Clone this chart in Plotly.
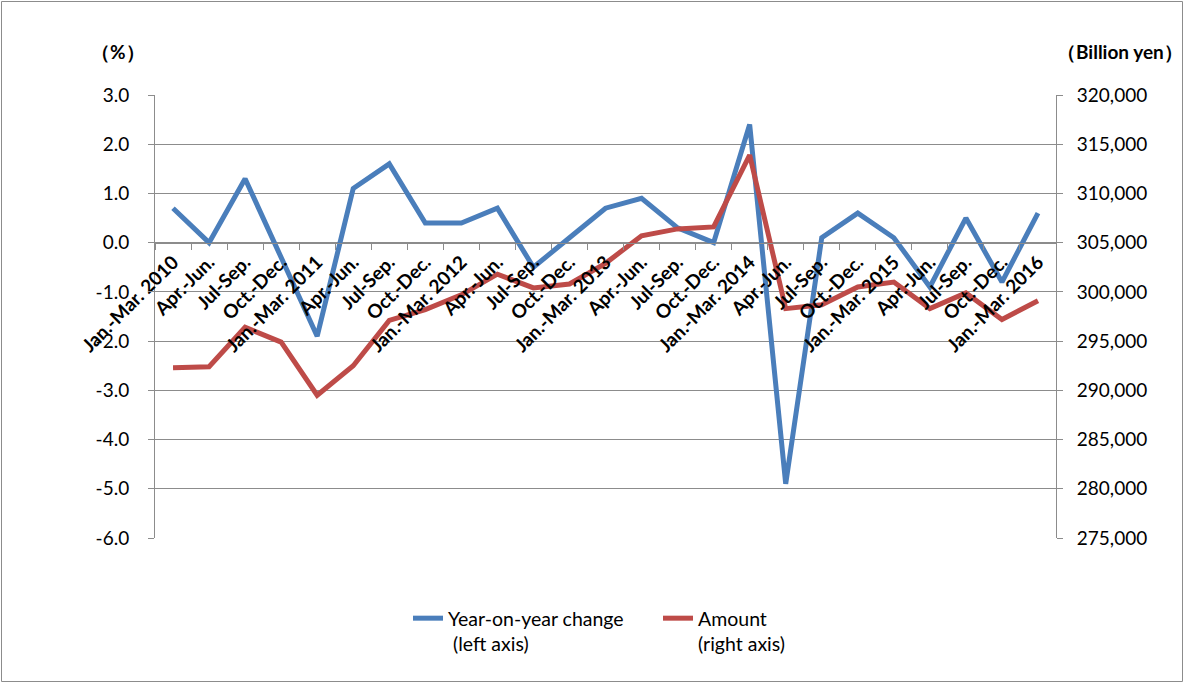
import plotly.graph_objects as go

quarters = ["Jan.-Mar. 2010", "Apr.-Jun.", "Jul-Sep.", "Oct.-Dec.",
            "Jan.-Mar. 2011", "Apr.-Jun.", "Jul-Sep.", "Oct.-Dec.",
            "Jan.-Mar. 2012", "Apr.-Jun.", "Jul-Sep.", "Oct.-Dec.",
            "Jan.-Mar. 2013", "Apr.-Jun.", "Jul-Sep.", "Oct.-Dec.",
            "Jan.-Mar. 2014", "Apr.-Jun.", "Jul-Sep.", "Oct.-Dec.",
            "Jan.-Mar. 2015", "Apr.-Jun.", "Jul-Sep.", "Oct.-Dec.",
            "Jan.-Mar. 2016"]

yoy_change = [0.7, 0.0, 1.3, -0.3, -1.9, 1.1, 1.6, 0.4, 0.4, 0.7, -0.5, 0.1,
              0.7, 0.9, 0.3, 0.0, 2.4, -4.9, 0.1, 0.6, 0.1, -0.9, 0.5, -0.8, 0.6]

amount = [292300, 292400, 296400, 294900, 289500, 292500, 297100, 298200,
          299700, 301800, 300400, 300800, 302900, 305700, 306400, 306600,
          313900, 298300, 298700, 300500, 301000, 298300, 299900, 297200, 299100]

left_ticks = [3, 2, 1, 0, -1, -2, -3, -4, -5, -6]
left_tick_text = ["3.0", "2.0", "1.0", "0.0", "-1.0", "-2.0", "-3.0", "-4.0", "-5.0", "-6.0"]
right_ticks = [320000, 315000, 310000, 305000, 300000, 295000, 290000, 285000, 280000, 275000]

W, H = 1184, 683
ML, MR, MT, MB = 155, 128, 95, 145
PW, PH = W - ML - MR, H - MT - MB

BLUE = "#4A7EBB"
RED = "#BE4B48"
GRID = "#8C8C8C"
FONT = "Lato"

xs = list(range(len(quarters)))

fig = go.Figure()
fig.add_trace(go.Scatter(x=xs, y=yoy_change, mode="lines",
                         name="Year-on-year change<br> (left axis)",
                         line=dict(color=BLUE, width=5), yaxis="y"))
fig.add_trace(go.Scatter(x=xs, y=amount, mode="lines",
                         name="Amount<br>(right axis)",
                         line=dict(color=RED, width=5), yaxis="y2"))

ymin, ymax = -6, 3
fig.update_layout(
    width=W, height=H,
    margin=dict(l=ML, r=MR, t=MT, b=MB, pad=0),
    paper_bgcolor="white", plot_bgcolor="white",
    font=dict(family=FONT, size=18, color="black"),
    xaxis=dict(
        range=[-0.5, len(quarters) - 0.5],
        tickvals=xs, ticktext=quarters, tickangle=-45,
        tickfont=dict(family=FONT, size=19, color="black", weight="bold"),
        ticks="", showgrid=False, zeroline=False,
        showline=True, linecolor=GRID, linewidth=1,
        anchor="free", position=(0 - ymin) / (ymax - ymin),
        minor=dict(tickvals=[i - 0.5 for i in range(len(quarters) + 1)],
                   ticks="outside", ticklen=6, tickcolor=GRID, showgrid=False),
    ),
    yaxis=dict(
        range=[ymin, ymax], tickvals=left_ticks, ticktext=left_tick_text,
        showgrid=True, gridcolor=GRID, gridwidth=1, zeroline=False,
        showline=True, linecolor=GRID, linewidth=1,
        ticks="outside", ticklen=6, tickcolor=GRID,
        ticklabelstandoff=15,
        tickfont=dict(family=FONT, size=19, color="black"),
    ),
    yaxis2=dict(
        range=[275000, 320000], tickvals=right_ticks, tickformat=",d",
        overlaying="y", side="right", showgrid=False, zeroline=False,
        showline=True, linecolor=GRID, linewidth=1,
        ticks="outside", ticklen=6, tickcolor=GRID,
        ticklabelstandoff=10,
        tickfont=dict(family=FONT, size=19, color="black"),
    ),
    legend=dict(
        orientation="h", x=(408 - ML) / PW, xanchor="left",
        y=-(599 - MT - PH) / PH, yanchor="top", valign="top",
        font=dict(family=FONT, size=19.5, color="black"),
        entrywidth=205, entrywidthmode="pixels",
        bgcolor="rgba(0,0,0,0)",
    ),
    showlegend=True,
    annotations=[
        dict(text="<b>（%）</b>", xref="paper", yref="paper",
             x=(118 - ML) / PW, y=1 + (MT - 52) / PH, xanchor="center", yanchor="middle",
             showarrow=False, font=dict(family=FONT, size=19, color="black")),
        dict(text="<b>（Billion yen）</b>", xref="paper", yref="paper",
             x=(1120 - ML) / PW, y=1 + (MT - 52) / PH, xanchor="center", yanchor="middle",
             showarrow=False, font=dict(family=FONT, size=19, color="black")),
    ],
    shapes=[
        dict(type="rect", xref="paper", yref="paper",
             x0=(1.5 - ML) / PW, x1=(W - 1.5 - ML) / PW,
             y0=-(H - 1.5 - MT - PH) / PH, y1=1 + (MT - 1.5) / PH,
             line=dict(color=GRID, width=1), fillcolor="rgba(0,0,0,0)", layer="below"),
    ],
)

fig.write_html("out.html", config={"displayModeBar": False},
               post_script="document.body.style.margin='0';document.body.style.overflow='hidden';")
